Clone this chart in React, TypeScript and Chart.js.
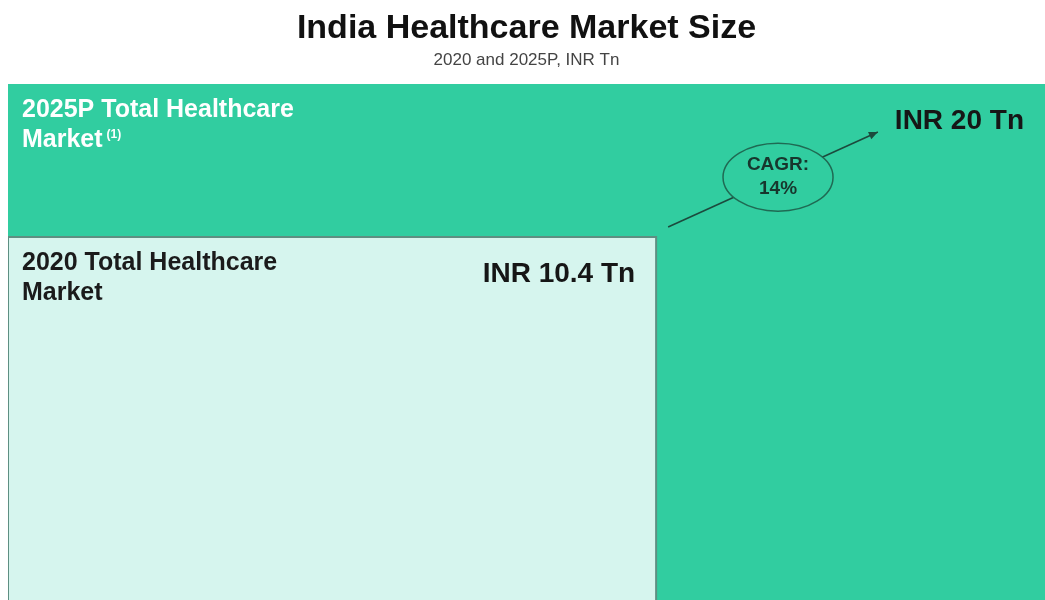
import React, { useEffect, useRef } from "react";
import { Chart, registerables } from "chart.js";

Chart.register(...registerables);

// ---- data ----
const years = ["2020", "2025P"];
const marketSizeTn = [10.4, 20];
const boxTitleLines = [
  ["2020 Total Healthcare", "Market"],
  ["2025P Total Healthcare", "Market"],
];
const footnotes = ["", "(1)"];
const cagrPct = 14;
const titleText = "India Healthcare Market Size";
const subtitleText = "2020 and 2025P, INR Tn";

// ---- styles / layout ----
const FONT = "'Liberation Sans', Arial, Helvetica, sans-serif";
const boxFill = ["#D6F5EE", "#31CDA0"];
const boxBorder = ["#5E8F82", "#31CDA0"];
const boxTextColor = ["#1b1b1b", "#ffffff"];
const X_MAX = 16.64; // axis ranges chosen so the 2020 square fits the frame
const Y_MAX = 14.78;

const annotate = {
  id: "annotate",
  afterDatasetsDraw(chart: any) {
    const { ctx, chartArea: ca, scales } = chart;
    const x = scales.x;
    const y = scales.y;
    ctx.save();
    let label2025Left = 0;
    let label2025Base = 0;
    marketSizeTn.forEach((v, i) => {
      const left = Math.max(ca.left, x.getPixelForValue(0));
      const right = Math.min(ca.right, x.getPixelForValue(v));
      const top = Math.max(ca.top, y.getPixelForValue(v));
      // box titles
      ctx.fillStyle = boxTextColor[i];
      ctx.textAlign = "left";
      ctx.textBaseline = "alphabetic";
      ctx.font = `bold 25px ${FONT}`;
      const lines = boxTitleLines[i];
      lines.forEach((ln, k) => {
        ctx.fillText(ln, left + 14, top + 33 + k * 30);
      });
      if (footnotes[i]) {
        const w = ctx.measureText(lines[lines.length - 1]).width;
        const base = top + 33 + (lines.length - 1) * 30;
        ctx.font = `bold 12px ${FONT}`;
        ctx.fillText(footnotes[i], left + 14 + w + 4, base - 9);
      }
      // value label
      ctx.font = `bold 28px ${FONT}`;
      ctx.fillStyle = "#161616";
      ctx.textAlign = "right";
      const txt = `INR ${v} Tn`;
      const vx = right - 21;
      const vy = top + 45;
      ctx.fillText(txt, vx, vy);
      if (i === 1) {
        label2025Left = vx - ctx.measureText(txt).width;
        label2025Base = vy;
      }
    });

    // CAGR arrow
    const sx = x.getPixelForValue(marketSizeTn[0]) + 12;
    const sy = y.getPixelForValue(marketSizeTn[0]) - 10;
    const ex = label2025Left - 17;
    const ey = label2025Base + 3;
    ctx.strokeStyle = "#1c4a3d";
    ctx.lineWidth = 1.6;
    ctx.beginPath();
    ctx.moveTo(sx, sy);
    ctx.lineTo(ex, ey);
    ctx.stroke();
    const ang = Math.atan2(ey - sy, ex - sx);
    const hl = 9;
    const hw = 4;
    ctx.fillStyle = "#1c4a3d";
    ctx.beginPath();
    ctx.moveTo(ex, ey);
    ctx.lineTo(
      ex - hl * Math.cos(ang) + hw * Math.sin(ang),
      ey - hl * Math.sin(ang) - hw * Math.cos(ang)
    );
    ctx.lineTo(
      ex - hl * Math.cos(ang) - hw * Math.sin(ang),
      ey - hl * Math.sin(ang) + hw * Math.cos(ang)
    );
    ctx.closePath();
    ctx.fill();

    // ellipse
    const t = 0.524;
    const cx = sx + (ex - sx) * t;
    const cy = sy + (ey - sy) * t;
    ctx.beginPath();
    ctx.ellipse(cx, cy, 55, 34, 0, 0, Math.PI * 2);
    ctx.fillStyle = boxFill[1];
    ctx.fill();
    ctx.strokeStyle = "#1f6a53";
    ctx.lineWidth = 1.5;
    ctx.stroke();
    ctx.fillStyle = "#17362d";
    ctx.textAlign = "center";
    ctx.textBaseline = "middle";
    ctx.font = `bold 19px ${FONT}`;
    ctx.fillText("CAGR:", cx, cy - 12);
    ctx.fillText(`${cagrPct}%`, cx, cy + 11.5);
    ctx.restore();
  },
};

export default function App() {
  const ref = useRef<HTMLCanvasElement | null>(null);
  useEffect(() => {
    if (!ref.current) return;
    const datasets = marketSizeTn.map((v, i) => ({
      label: years[i],
      data: [
        { x: 0, y: 0 },
        { x: 0, y: v },
        { x: v, y: v },
        { x: v, y: 0 },
      ],
      showLine: true,
      fill: "origin",
      backgroundColor: boxFill[i],
      borderColor: boxBorder[i],
      borderWidth: i === 0 ? 2 : 0,
      pointRadius: 0,
      tension: 0,
      order: i,
    }));
    const chart = new Chart(ref.current, {
      type: "scatter",
      data: { datasets: datasets as any },
      options: {
        animation: false,
        responsive: false,
        events: [],
        layout: { padding: 0 },
        scales: {
          x: { type: "linear", min: 0, max: X_MAX, display: false },
          y: { type: "linear", min: 0, max: Y_MAX, display: false },
        },
        plugins: {
          legend: { display: false },
          tooltip: { enabled: false },
          title: {
            display: true,
            text: titleText,
            color: "#111111",
            font: { family: FONT, size: 34, weight: "bold", lineHeight: 1 },
            padding: { top: 4, bottom: 6 },
          },
          subtitle: {
            display: true,
            text: subtitleText,
            color: "#444444",
            font: { family: FONT, size: 17, weight: "normal", lineHeight: 1 },
            padding: { top: 0, bottom: 15 },
          },
        },
      },
      plugins: [annotate],
    });
    return () => chart.destroy();
  }, []);
  return (
    <div style={{ position: "fixed", left: 8, top: 8, width: 1037, height: 592 }}>
      <canvas ref={ref} width={1037} height={592} />
    </div>
  );
}
